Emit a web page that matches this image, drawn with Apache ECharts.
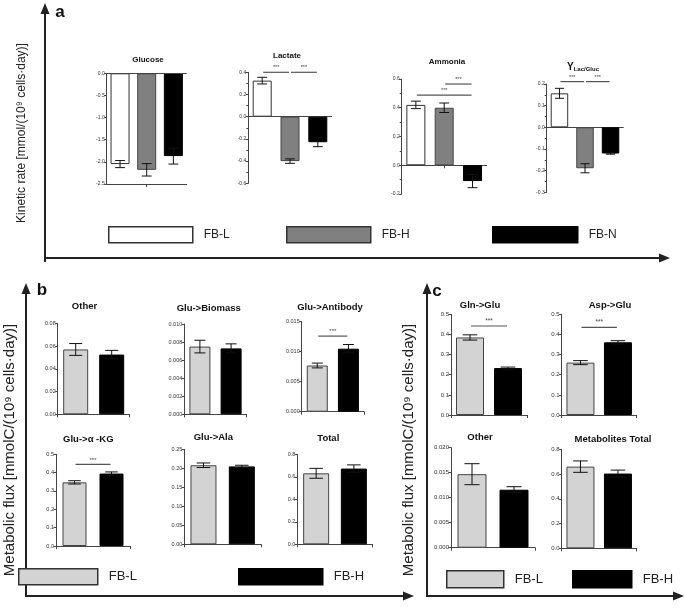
<!DOCTYPE html>
<html>
<head>
<meta charset="utf-8">
<script src="https://cdn.jsdelivr.net/npm/echarts@6.0.0/dist/echarts.min.js"></script>
<style>
  html, body { margin: 0; padding: 0; background: #fff; }
  #chart { width: 685px; height: 608px; }
</style>
</head>
<body>
<div id="chart"></div>
<script>
// groups
const kineticGroups = ['FB-L', 'FB-H', 'FB-N'];
const fluxGroups = ['FB-L', 'FB-H'];

// panel a - kinetic rates
const glucoseTicks = ['-2.5', '-2.0', '-1.5', '-1.0', '-0.5', '0.0'];
const glucoseMean = [-2.05, -2.18, -1.87];
const glucoseErr = [0.08, 0.14, 0.18];

const lactateTicks = ['-0.6', '-0.4', '-0.2', '0.0', '0.2', '0.4'];
const lactateMean = [0.325, -0.40, -0.23];
const lactateErr = [0.03, 0.02, 0.04];
const lactateSig = [[0, 1, 0.40], [1, 2, 0.40]];

const ammoniaTicks = ['-0.2', '0.0', '0.2', '0.4', '0.6'];
const ammoniaMean = [0.42, 0.40, -0.11];
const ammoniaErr = [0.026, 0.033, 0.046];
const ammoniaSig = [[0, 2, 0.488], [1, 2, 0.565]];

const yieldTicks = ['-0.3', '-0.2', '-0.1', '0.0', '0.1', '0.2'];
const yieldMean = [0.157, -0.189, -0.121];
const yieldErr = [0.023, 0.021, 0.003];
const yieldSig = [[0, 1, 0.211], [1, 2, 0.211]];

// panel b - glutamate fluxes
const otherBTicks = ['0.00', '0.02', '0.04', '0.06', '0.08'];
const otherBMean = [0.057, 0.0525];
const otherBErr = [0.0052, 0.0037];

const biomassTicks = ['0.000', '0.002', '0.004', '0.006', '0.008', '0.010'];
const biomassMean = [0.0075, 0.0073];
const biomassErr = [0.0007, 0.0005];

const antibodyTicks = ['0.000', '0.005', '0.010', '0.015'];
const antibodyMean = [0.0077, 0.0105];
const antibodyErr = [0.0004, 0.0007];
const antibodySig = [[0, 1, 0.0126]];

const akgTicks = ['0.0', '0.1', '0.2', '0.3', '0.4', '0.5'];
const akgMean = [0.347, 0.395];
const akgErr = [0.009, 0.009];
const akgSig = [[0, 1, 0.445]];

const alaTicks = ['0.00', '0.05', '0.10', '0.15', '0.20', '0.25'];
const alaMean = [0.208, 0.205];
const alaErr = [0.006, 0.003];

const totalBTicks = ['0.0', '0.2', '0.4', '0.6', '0.8'];
const totalBMean = [0.631, 0.673];
const totalBErr = [0.044, 0.033];

// panel c - glutamate sources
const glnTicks = ['0.0', '0.1', '0.2', '0.3', '0.4', '0.5'];
const glnMean = [0.385, 0.233];
const glnErr = [0.013, 0.005];
const glnSig = [[0, 1, 0.442]];

const aspTicks = ['0.0', '0.1', '0.2', '0.3', '0.4', '0.5'];
const aspMean = [0.26, 0.361];
const aspErr = [0.01, 0.008];
const aspSig = [[0, 1, 0.435]];

const otherCTicks = ['0.000', '0.005', '0.010', '0.015', '0.020'];
const otherCMean = [0.0147, 0.0116];
const otherCErr = [0.0021, 0.0006];

const metTotalTicks = ['0.0', '0.2', '0.4', '0.6', '0.8'];
const metTotalMean = [0.66, 0.604];
const metTotalErr = [0.046, 0.028];

const FONT = "'Liberation Sans', Arial, sans-serif";
const kineticColors = [
  { color: '#ffffff', borderColor: '#333', borderWidth: 1 },
  { color: '#808080', borderColor: '#444', borderWidth: 1 },
  { color: '#000000', borderColor: '#000', borderWidth: 1 }
];
const fluxColors = [
  { color: '#d3d3d3', borderColor: '#444', borderWidth: 1 },
  { color: '#000000', borderColor: '#000', borderWidth: 1 }
];

// [left, top, width, height, barWidth, titleX, titleY]
const charts = [
  { t: 'Glucose', g: kineticGroups, c: kineticColors, ticks: glucoseTicks, mean: glucoseMean, err: glucoseErr, sig: [], box: [106.7, 73.3, 80, 110.7, 19, 148, 61], fs: 5, ts: 8, bottomAxis: true },
  { t: 'Lactate', g: kineticGroups, c: kineticColors, ticks: lactateTicks, mean: lactateMean, err: lactateErr, sig: lactateSig, box: [248.3, 72.3, 83.4, 111, 19, 287, 57], fs: 5, ts: 8, minor: true },
  { t: 'Ammonia', g: kineticGroups, c: kineticColors, ticks: ammoniaTicks, mean: ammoniaMean, err: ammoniaErr, sig: ammoniaSig, box: [401.7, 79, 85, 115, 19, 447, 62.7], fs: 5, ts: 8, minor: true },
  { t: '{y|Y}{s|Lac/Gluc}', g: kineticGroups, c: kineticColors, ticks: yieldTicks, mean: yieldMean, err: yieldErr, sig: yieldSig, box: [546.7, 84, 76.6, 108.3, 17.5, 583, 67], fs: 5, ts: 8, minor: true },

  { t: 'Other', g: fluxGroups, c: fluxColors, ticks: otherBTicks, mean: otherBMean, err: otherBErr, sig: [], box: [57.7, 323.3, 72, 91, 25, 84.5, 306.7], fs: 5.5, ts: 9.5 },
  { t: 'Glu->Biomass', g: fluxGroups, c: fluxColors, ticks: biomassTicks, mean: biomassMean, err: biomassErr, sig: [], box: [184.3, 324, 62.4, 90.3, 21, 208.7, 309], fs: 5.5, ts: 9.5 },
  { t: 'Glu->Antibody', g: fluxGroups, c: fluxColors, ticks: antibodyTicks, mean: antibodyMean, err: antibodyErr, sig: antibodySig, box: [301.7, 321.7, 62.3, 90, 21, 330, 307.7], fs: 5.5, ts: 9.5 },
  { t: 'Glu->α -KG', g: fluxGroups, c: fluxColors, ticks: akgTicks, mean: akgMean, err: akgErr, sig: akgSig, box: [56, 454.3, 74, 91.7, 24, 88.3, 440], fs: 5.5, ts: 9.5 },
  { t: 'Glu->Ala', g: fluxGroups, c: fluxColors, ticks: alaTicks, mean: alaMean, err: alaErr, sig: [], box: [184.3, 449.3, 76.7, 95, 26, 213.3, 438.3], fs: 5.5, ts: 9.5 },
  { t: 'Total', g: fluxGroups, c: fluxColors, ticks: totalBTicks, mean: totalBMean, err: totalBErr, sig: [], box: [297.3, 454.3, 75.4, 90, 26, 328.3, 439], fs: 5.5, ts: 9.5 },

  { t: 'Gln->Glu', g: fluxGroups, c: fluxColors, ticks: glnTicks, mean: glnMean, err: glnErr, sig: glnSig, box: [451, 314.3, 76, 100.7, 28, 480, 306], fs: 6, ts: 9.5 },
  { t: 'Asp->Glu', g: fluxGroups, c: fluxColors, ticks: aspTicks, mean: aspMean, err: aspErr, sig: aspSig, box: [561.7, 314.3, 75, 100.7, 28, 610, 306], fs: 6, ts: 9.5 },
  { t: 'Other', g: fluxGroups, c: fluxColors, ticks: otherCTicks, mean: otherCMean, err: otherCErr, sig: [], box: [451, 447.7, 84, 100, 29, 480, 437.7], fs: 6, ts: 9.5 },
  { t: 'Metabolites Total', g: fluxGroups, c: fluxColors, ticks: metTotalTicks, mean: metTotalMean, err: metTotalErr, sig: [], box: [561.7, 449.3, 75, 99, 28, 613, 440], fs: 6, ts: 9.5 }
];

const grid = [], xAxis = [], yAxis = [], series = [], title = [];

charts.forEach((ch, i) => {
  const [left, top, width, height, bw, tx, ty] = ch.box;
  const n = ch.g.length;
  grid.push({ left, top, width, height });
  xAxis.push({
    type: 'category', gridIndex: i, data: ch.g,
    axisLabel: { show: false },
    axisLine: { onZero: !ch.bottomAxis, lineStyle: { color: '#444', width: 1 } },
    axisTick: { show: true, length: 3, alignWithLabel: n === 3, interval: (idx) => idx === 1, lineStyle: { color: '#444' } },
    splitLine: { show: false }
  });
  const tickVals = ch.ticks.map(Number);
  yAxis.push({
    type: 'value', gridIndex: i,
    min: tickVals[0], max: tickVals[tickVals.length - 1], interval: tickVals[1] - tickVals[0],
    axisLine: { show: true, lineStyle: { color: '#444', width: 1 } },
    axisTick: { show: true, length: 2.5, lineStyle: { color: '#444' } },
    minorTick: { show: !!ch.minor, splitNumber: 2, length: 2, lineStyle: { color: '#444' } },
    splitLine: { show: false },
    axisLabel: {
      fontSize: ch.fs, color: '#333', margin: 2, fontFamily: FONT,
      formatter: (v) => {
        const k = tickVals.findIndex(t => Math.abs(t - v) < 1e-9);
        return k >= 0 ? ch.ticks[k] : '';
      }
    }
  });

  ch.g.forEach((name, j) => {
    const s = {
      type: 'bar', name, xAxisIndex: i, yAxisIndex: i,
      barWidth: bw, barGap: '-100%',
      data: ch.g.map((_, k) => (k === j ? ch.mean[j] : '-')),
      itemStyle: ch.c[j], silent: true
    };
    if (ch.bottomAxis && j === 0) {
      s.markLine = {
        silent: true, symbol: 'none', label: { show: false },
        lineStyle: { color: '#444', type: 'solid', width: 1 },
        data: [{ yAxis: 0 }]
      };
    }
    series.push(s);
  });

  const capHalf = bw * 0.26;
  series.push({
    type: 'custom', name: 'err', xAxisIndex: i, yAxisIndex: i, z: 5, silent: true,
    data: ch.mean.map((m, j) => [j, m, ch.err[j]]),
    renderItem: (params, api) => {
      const x = api.value(0), m = api.value(1), e = api.value(2);
      const hi = api.coord([x, m + e]);
      const lo = api.coord([x, m - e]);
      const style = { stroke: '#111', lineWidth: 1 };
      return {
        type: 'group', children: [
          { type: 'line', shape: { x1: hi[0], y1: hi[1], x2: lo[0], y2: lo[1] }, style },
          { type: 'line', shape: { x1: hi[0] - capHalf, y1: hi[1], x2: hi[0] + capHalf, y2: hi[1] }, style },
          { type: 'line', shape: { x1: lo[0] - capHalf, y1: lo[1], x2: lo[0] + capHalf, y2: lo[1] }, style }
        ]
      };
    }
  });

  if (ch.sig.length) {
    series.push({
      type: 'custom', name: 'sig', xAxisIndex: i, yAxisIndex: i, z: 5, silent: true, clip: false,
      data: ch.sig,
      renderItem: (params, api) => {
        const p1 = api.coord([api.value(0), api.value(2)]);
        const p2 = api.coord([api.value(1), api.value(2)]);
        return {
          type: 'group', children: [
            { type: 'line', shape: { x1: p1[0] + 1, y1: p1[1], x2: p2[0] - 1, y2: p2[1] }, style: { stroke: '#555', lineWidth: 1.2 } },
            { type: 'text', x: (p1[0] + p2[0]) / 2, y: p1[1] - 1.5,
              style: { text: '***', fontSize: ch.fs + 0.5, fill: '#444', align: 'center', verticalAlign: 'bottom', fontFamily: FONT } }
          ]
        };
      }
    });
  }

  title.push({
    text: ch.t, left: tx, top: ty - ch.ts / 2 - 1, textAlign: 'center', padding: 0,
    textStyle: {
      fontSize: ch.ts, fontWeight: 'bold', color: '#111', fontFamily: FONT,
      rich: {
        y: { fontSize: 10, fontWeight: 'bold', fontFamily: FONT, color: '#111' },
        s: { fontSize: 6, fontWeight: 'bold', fontFamily: FONT, color: '#111', padding: [4, 0, 0, 0] }
      }
    }
  });
});

function legendItem(name, style, left, top, w, h, fs) {
  return {
    left, top, padding: 0, itemWidth: w, itemHeight: h, icon: 'rect', selectedMode: false,
    data: [{ name, itemStyle: Object.assign({}, style, { borderWidth: 1.5, borderColor: style.color === '#000000' ? '#000' : '#333' }) }],
    textStyle: { fontSize: fs, color: '#222', fontFamily: FONT, padding: [0, 0, 0, 6] }
  };
}
const legend = [
  legendItem('FB-L', kineticColors[0], 108, 226, 84, 16, 12),
  legendItem('FB-H', kineticColors[1], 286, 226, 84, 16, 12),
  legendItem('FB-N', kineticColors[2], 492, 226, 85, 16, 12),
  legendItem('FB-L', fluxColors[0], 18, 568, 79, 16, 13),
  legendItem('FB-H', fluxColors[1], 238, 568, 84, 16, 13),
  legendItem('FB-L', fluxColors[0], 446, 570, 57, 17, 13),
  legendItem('FB-H', fluxColors[1], 572, 570, 59, 17, 13)
];

function arrow(x1, y1, x2, y2) {
  const dx = x2 - x1, dy = y2 - y1, len = Math.hypot(dx, dy);
  const ux = dx / len, uy = dy / len, hl = 11, hw = 4.5;
  const bx = x2 - ux * hl, by = y2 - uy * hl;
  return [
    { type: 'line', silent: true, shape: { x1, y1, x2: bx, y2: by }, style: { stroke: '#222', lineWidth: 2 } },
    { type: 'polygon', silent: true, shape: { points: [[x2, y2], [bx - uy * hw, by + ux * hw], [bx + uy * hw, by - ux * hw]] }, style: { fill: '#222' } }
  ];
}
function vtext(text, x, y, fs) {
  return { type: 'text', x, y, rotation: Math.PI / 2, silent: true,
    style: { text, fontSize: fs, fontFamily: FONT, fill: '#222', align: 'center', verticalAlign: 'middle' } };
}
function letter(text, x, y) {
  return { type: 'text', x, y, silent: true,
    style: { text, fontSize: 17, fontWeight: 'bold', fontFamily: FONT, fill: '#111', align: 'center', verticalAlign: 'middle' } };
}

const graphic = [].concat(
  arrow(45, 262, 45, 3), arrow(44, 258, 670, 258),
  arrow(26, 596, 26, 283), arrow(25, 596, 414, 596),
  arrow(427, 596, 427, 283), arrow(426, 596, 684, 596),
  [
    vtext('Kinetic rate [mmol/(10⁹ cells·day)]', 22, 133, 12),
    vtext('Metabolic flux [mmolC/(10⁹ cells·day)]', 10, 450, 15),
    vtext('Metabolic flux [mmolC/(10⁹ cells·day)]', 409, 450, 15),
    letter('a', 60, 12), letter('b', 42, 290), letter('c', 437, 291)
  ]
);

const chart = echarts.init(document.getElementById('chart'), null, { renderer: 'canvas' });
chart.setOption({
  animation: false,
  backgroundColor: '#fff',
  title, legend, grid, xAxis, yAxis, series, graphic
});
</script>
</body>
</html>
